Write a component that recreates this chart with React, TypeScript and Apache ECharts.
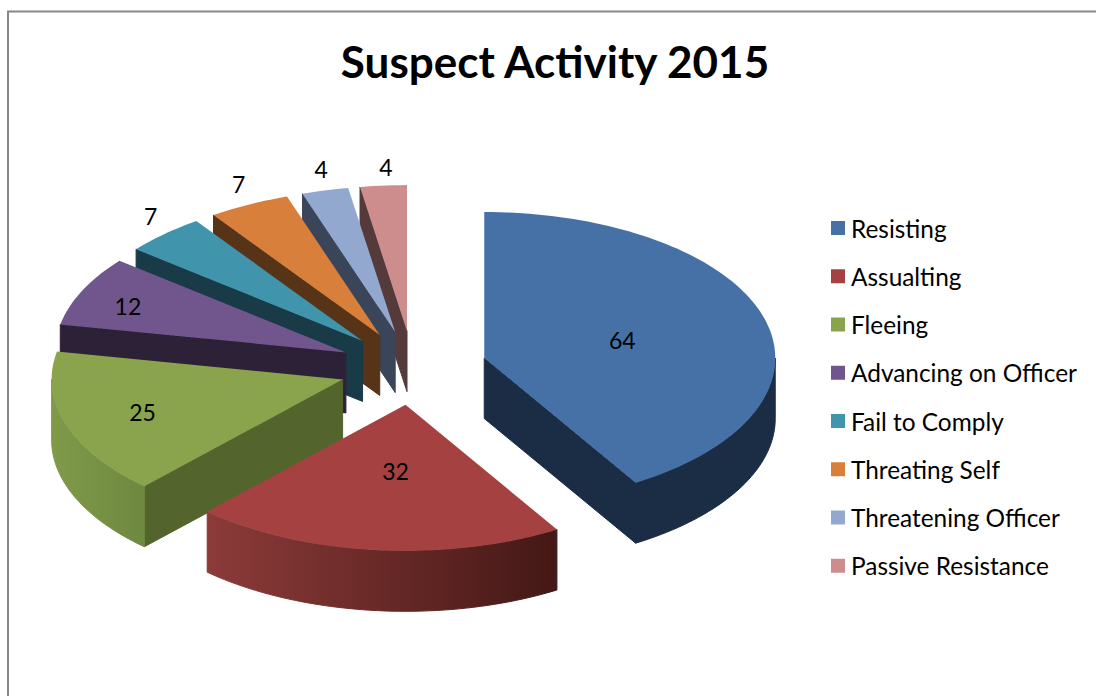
import React, { useEffect, useRef } from "react";
import * as echarts from "echarts";

const title = "Suspect Activity 2015";
const categories = ["Resisting", "Assualting", "Fleeing", "Advancing on Officer", "Fail to Comply", "Threating Self", "Threatening Officer", "Passive Resistance"];
const values = [64, 32, 25, 12, 7, 7, 4, 4];
const topColors = ["#4671a7", "#a54241", "#89a44c", "#71568d", "#4095ad", "#d8803b", "#93a8ce", "#ce8d8d"];
const faceColors = ["#1a2d45", "#3f1715", "#53652d", "#2d2138", "#193b47", "#573317", "#3a4559", "#553a3b"];
const wallLeft = ["#1a2d45", "#8c3b39", "#7f9a49", "#2d2138", "#193b47", "#573317", "#3a4559", "#553a3b"];
const wallRight = ["#1a2d45", "#441816", "#6e8940", "#2d2138", "#193b47", "#573317", "#3a4559", "#553a3b"];
const labelOffsets = [[138, -18], [-10, 66], [-200, 33], [-218, -46], [-212, -125], [-141, -151], [-74, -163], [-21, -164]];
const drawOrder = [7, 6, 5, 4, 3, 2, 0, 1];

const FONT = "Lato";
const CX = 413, CY = 368, RX = 291, RY = 146, DEPTH = 60.5, EXPLODE = 74;
const total = values.reduce((a, b) => a + b, 0);
const rad = (d: number) => (d * Math.PI) / 180;

function sliceAngles(i: number) {
  const before = values.slice(0, i).reduce((a, b) => a + b, 0);
  return [(before / total) * 360, ((before + values[i]) / total) * 360];
}

function renderSlice(i: number) {
  const [a0, a1] = sliceAngles(i);
  const mid = (a0 + a1) / 2;
  const ax = CX + EXPLODE * Math.sin(rad(mid));
  const ay = CY - (EXPLODE / 2) * Math.cos(rad(mid));
  const rim = (a: number, dy = 0) => [ax + RX * Math.sin(rad(a)), ay - RY * Math.cos(rad(a)) + dy];
  const arc = (from: number, to: number, dy = 0) => {
    const n = Math.max(2, Math.ceil((to - from) / 1.5));
    const pts: number[][] = [];
    for (let k = 0; k <= n; k++) pts.push(rim(from + ((to - from) * k) / n, dy));
    return pts;
  };
  const children: any[] = [];
  const face = (a: number) => {
    const p = rim(a);
    children.push({
      type: "polygon",
      shape: { points: [[ax, ay], p, [p[0], p[1] + DEPTH], [ax, ay + DEPTH]] },
      style: { fill: faceColors[i], stroke: faceColors[i], lineWidth: 1 },
    });
  };
  if (a0 > 180 && a0 < 360) face(a0);
  if (a1 > 0 && a1 < 180) face(a1);
  const w0 = Math.max(a0, 90), w1 = Math.min(a1, 270);
  if (w1 > w0) {
    const top = arc(w0, w1);
    const bottom = arc(w0, w1, DEPTH).reverse();
    const xs = top.map((p) => p[0]);
    const minX = Math.min(...xs), maxX = Math.max(...xs);
    const gradient = {
      type: "linear", x: minX, y: 0, x2: maxX, y2: 0, global: true,
      colorStops: [{ offset: 0, color: wallLeft[i] }, { offset: 1, color: wallRight[i] }],
    };
    children.push({
      type: "polygon",
      shape: { points: [...top, ...bottom] },
      style: { fill: gradient, stroke: gradient, lineWidth: 1 },
    });
  }
  children.push({
    type: "polygon",
    shape: { points: [[ax, ay], ...arc(a0, a1)] },
    style: { fill: topColors[i] },
  });
  children.push({
    type: "text",
    style: {
      text: String(values[i]),
      x: ax + labelOffsets[i][0],
      y: ay + labelOffsets[i][1],
      fill: "#000",
      font: `23px ${FONT}`,
      align: "center",
      verticalAlign: "middle",
    },
  });
  return { type: "group", children };
}

export default function App() {
  const ref = useRef<HTMLDivElement>(null);
  useEffect(() => {
    document.body.style.margin = "0";
    const chart = echarts.init(ref.current!, null, { renderer: "svg" });
    chart.setOption({
      animation: false,
      backgroundColor: "#fff",
      title: {
        text: title,
        left: 555,
        top: 35,
        textAlign: "center",
        textStyle: { fontFamily: FONT, fontWeight: "bold", fontSize: 44, color: "#000", lineHeight: 52 },
        padding: 0,
      },
      legend: {
        orient: "vertical",
        left: 831,
        top: 216,
        padding: 0,
        itemWidth: 14,
        itemHeight: 14,
        itemGap: 24.25,
        selectedMode: false,
        icon: "rect",
        data: categories,
        textStyle: { fontFamily: FONT, fontSize: 24.4, color: "#000", lineHeight: 14, padding: [0, 0, 0, 1] },
      },
      graphic: [
        {
          type: "polyline",
          silent: true,
          shape: { points: [[1096, 11.5], [8, 11.5], [8, 696]] },
          style: { stroke: "#878787", lineWidth: 2, fill: "none" },
        },
      ],
      series: drawOrder.map((i) => ({
        type: "custom",
        name: categories[i],
        coordinateSystem: "none",
        silent: true,
        itemStyle: { color: topColors[i] },
        data: [[values[i]]],
        renderItem: () => renderSlice(i),
      })),
    });
    return () => chart.dispose();
  }, []);
  return <div ref={ref} style={{ width: 1096, height: 696 }} />;
}
